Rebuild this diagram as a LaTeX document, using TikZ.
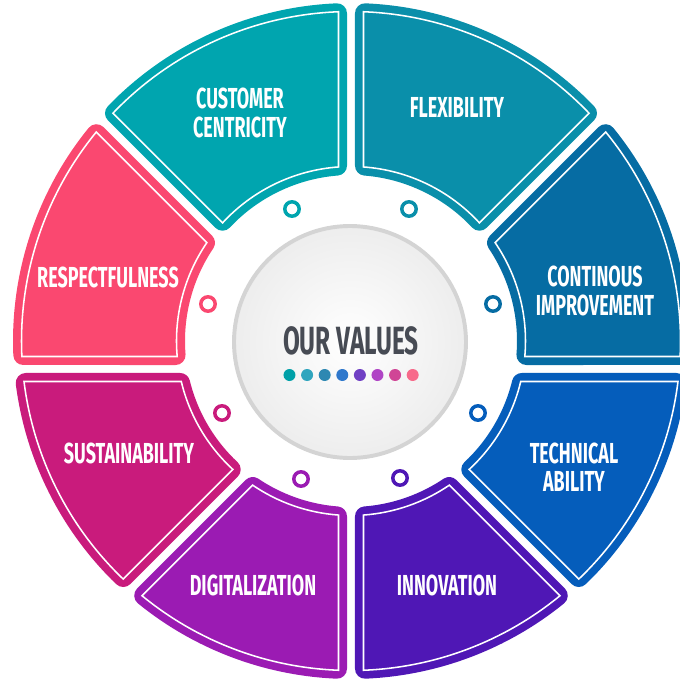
\documentclass[tikz,border=0pt]{standalone}
\usepackage{fontspec}
\newfontfamily\valuefont{Fira Sans}[FakeStretch=0.62]
\definecolor{colorContinous}{HTML}{066CA3}
\definecolor{colorFlexibility}{HTML}{0A8FAA}
\definecolor{colorCustomer}{HTML}{00A5AF}
\definecolor{colorRespect}{HTML}{FA4870}
\definecolor{colorSustain}{HTML}{C91B7C}
\definecolor{colorDigital}{HTML}{9B1BB3}
\definecolor{colorInnovation}{HTML}{4F17B5}
\definecolor{colorTechnical}{HTML}{055DBB}
\definecolor{colorTitle}{HTML}{474B54}
\definecolor{colorRim}{HTML}{D4D4D4}
\definecolor{dotA}{HTML}{00A0A8}
\definecolor{dotB}{HTML}{2FA5BE}
\definecolor{dotC}{HTML}{2E88B2}
\definecolor{dotD}{HTML}{2F78CC}
\definecolor{dotE}{HTML}{7040C4}
\definecolor{dotF}{HTML}{B045C5}
\definecolor{dotG}{HTML}{D04596}
\definecolor{dotH}{HTML}{F76A8A}
\usetikzlibrary{positioning}
\tikzset{
  segfill/.style={fill=#1, draw=#1, line width=0.5cm, line join=round},
  segline/.style={draw=white, line width=1.1pt, line join=miter},
  vlabel/.style={text=white, align=center, inner sep=0pt,
    font=\valuefont\bfseries\fontsize{20.6}{20}\selectfont},
  knob/.style={circle, draw=#1, fill=white, line width=2.5pt, minimum size=0.36cm, inner sep=0pt}
}
% angle (from the ring centre) where a shifted divider meets a circle
\newcommand\ringAngle[4]{%
  \pgfmathsetmacro\qx{#3*cos(#1+(#2)*90)}%
  \pgfmathsetmacro\qy{-2.8+#3*sin(#1+(#2)*90)}%
  \pgfmathsetmacro\qb{\qx*cos(#1)+\qy*sin(#1)}%
  \pgfmathsetmacro\qc{\qx*\qx+\qy*\qy-#4*#4}%
  \pgfmathsetmacro\qt{-\qb+sqrt(\qb*\qb-\qc)}%
  \pgfmathsetmacro\ringRes{atan2(\qy+\qt*sin(#1),\qx+\qt*cos(#1))}%
}
\newcommand\ringSector[5]{%
  \pgfmathsetmacro\aTwo{#1+45}%
  \ringAngle{#1}{1}{#2}{#3}\let\oA\ringRes
  \ringAngle{\aTwo}{-1}{#2}{#3}\let\oB\ringRes
  \ringAngle{#1}{1}{#2}{#4}\let\iA\ringRes
  \ringAngle{\aTwo}{-1}{#2}{#4}\let\iB\ringRes
  \pgfmathsetmacro\oB{ifthenelse(\oB<\oA,\oB+360,\oB)}%
  \pgfmathsetmacro\iB{ifthenelse(\iB<\iA,\iB+360,\iB)}%
  \path[#5] (\oA:#3) arc[start angle=\oA, end angle=\oB, radius=#3]
    -- (\iB:#4) arc[start angle=\iB, end angle=\iA, radius=#4] -- cycle;
}

\begin{document}
\begin{tikzpicture}[x=0.25cm, y=0.25cm]
\useasboundingbox (-35.1,-34.0) rectangle (32.9,34.1);

% segments of the ring
\foreach \ang/\col in {0/colorContinous, 45/colorFlexibility, 90/colorCustomer, 135/colorRespect,
    180/colorSustain, 225/colorDigital, 270/colorInnovation, 315/colorTechnical} {
  \ringSector{\ang}{1.4}{32.8}{17.6}{segfill=\col}
  \ringSector{\ang}{1.25}{32.95}{17.45}{segline}
}

\node[vlabel] (lCustomer) at (-11.1,22.8) {CUSTOMER\\CENTRICITY};
\node[vlabel] (lFlexibility) at (10.6,23.4) {FLEXIBILITY};
\node[vlabel] (lContinous) at (24.4,5.0) {CONTINOUS\\IMPROVEMENT};
\node[vlabel] (lTechnical) at (22.3,-12.6) {TECHNICAL\\ABILITY};
\node[vlabel] (lInnovation) at (9.6,-24.4) {INNOVATION};
\node[vlabel] (lDigital) at (-9.8,-24.4) {DIGITALIZATION};
\node[vlabel] (lSustain) at (-22.2,-11.2) {SUSTAINABILITY};
\node[vlabel] (lRespect) at (-24.3,6.4) {RESPECTFULNESS};

% small rings
\node[knob=colorCustomer] (kCustomer) at (-5.9,13.2) {};
\node[knob=colorFlexibility] (kFlexibility) at (5.8,13.2) {};
\node[knob=colorContinous] (kContinous) at (14.2,3.7) {};
\node[knob=colorTechnical] (kTechnical) at (12.7,-7.2) {};
\node[knob=colorInnovation] (kInnovation) at (4.9,-13.7) {};
\node[knob=colorDigital] (kDigital) at (-5.0,-13.8) {};
\node[knob=colorSustain] (kSustain) at (-12.9,-7.2) {};
\node[knob=colorRespect] (kRespect) at (-14.3,3.7) {};

% centre
\node[circle, draw=colorRim, line width=2.8pt, minimum size=5.8cm, inner sep=0pt,
  inner color=white, outer color=black!7] (hub) at (-0.1,-0.1) {};
\node[text=colorTitle, inner sep=0pt, font=\valuefont\bfseries\fontsize{28}{28}\selectfont]
  (title) at (0,0) {OUR VALUES};
\foreach \c [count=\i from 0] in {dotA,dotB,dotC,dotD,dotE,dotF,dotG,dotH}
  \fill[\c] ({-6.15+\i*1.76},-3.4) circle[radius=0.6];
\end{tikzpicture}
\end{document}
